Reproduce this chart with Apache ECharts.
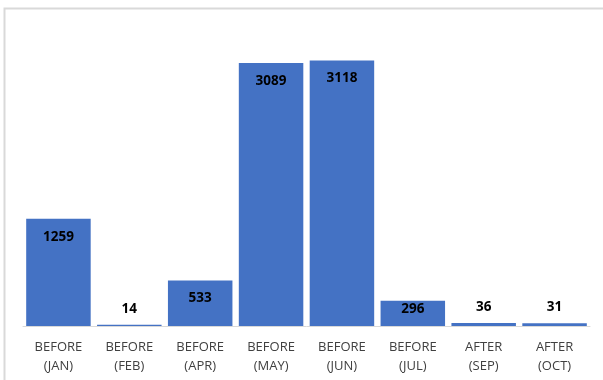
<!DOCTYPE html>
<html>
<head>
<meta charset="utf-8">
<script src="https://cdn.jsdelivr.net/npm/echarts@6/dist/echarts.min.js"></script>
<style>
html, body { margin: 0; padding: 0; background: #ffffff; }
#chart { width: 603px; height: 380px; }
</style>
</head>
<body>
<div id="chart"></div>
<script>
// Monthly counts before / after
const categories = ['BEFORE\n(JAN)', 'BEFORE\n(FEB)', 'BEFORE\n(APR)', 'BEFORE\n(MAY)', 'BEFORE\n(JUN)', 'BEFORE\n(JUL)', 'AFTER\n(SEP)', 'AFTER\n(OCT)'];
const counts = [1259, 14, 533, 3089, 3118, 296, 36, 31];

// Label placement: tall bars hold the label inside, short ones sit it on the bar top,
// tiny ones put it above
function labelFor(v) {
  if (v >= 400) return { position: 'insideTop', distance: 11 };
  if (v >= 150) return { position: 'insideTop', distance: 1 };
  return { position: 'top', distance: 9 };
}

const chart = echarts.init(document.getElementById('chart'), null, { renderer: 'canvas' });

chart.setOption({
  backgroundColor: '#ffffff',
  animation: false,
  graphic: [{
    type: 'rect',
    shape: { x: 4.5, y: 8.5, width: 620, height: 400 },
    style: { fill: 'none', stroke: '#d9d9d9', lineWidth: 2 },
    silent: true
  }],
  grid: { left: 23, right: 13, top: 28, bottom: 54 },
  xAxis: {
    type: 'category',
    data: categories,
    axisLine: { lineStyle: { color: '#d9d9d9', width: 1 } },
    axisTick: { show: false },
    axisLabel: {
      color: '#404040',
      fontFamily: '"Open Sans", sans-serif',
      fontSize: 13,
      lineHeight: 19,
      margin: 12,
      interval: 0
    }
  },
  yAxis: {
    type: 'value',
    min: 0,
    max: 3500,
    show: false,
    splitLine: { show: false }
  },
  series: [{
    type: 'bar',
    barCategoryGap: '9%',
    data: counts.map(v => ({ value: v, label: labelFor(v) })),
    itemStyle: { color: '#4472c4' },
    label: {
      show: true,
      color: '#000000',
      fontWeight: 'bold',
      fontSize: 13.5,
      fontFamily: '"Open Sans", sans-serif'
    }
  }]
});
</script>
</body>
</html>
